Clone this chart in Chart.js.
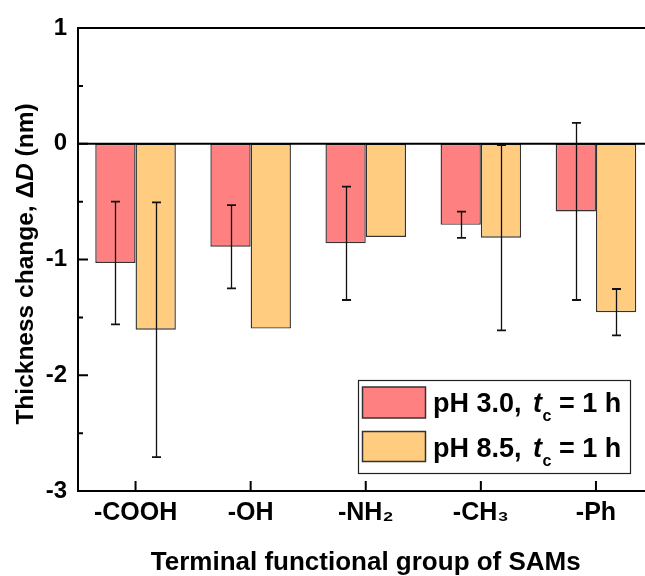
<!DOCTYPE html>
<html>
<head>
<meta charset="utf-8">
<script src="https://cdn.jsdelivr.net/npm/chart.js@4/dist/chart.umd.min.js"></script>
<style>
html,body{margin:0;padding:0;overflow:hidden;background:#fff;width:645px;height:576px;}
#wrap{position:absolute;left:0;top:0;width:660px;height:576px;}
canvas{display:block;}
</style>
</head>
<body>
<div id="wrap"><canvas id="c" width="660" height="576"></canvas></div>
<script>
// ---- data ----
const categories = ['-COOH', '-OH', '-NH\u2082', '-CH\u2083', '-Ph'];
const seriesLabels = ['pH 3.0', 'pH 8.5'];
const exposureTime = '1 h';
const ph30Values = [-1.03, -0.89, -0.86, -0.70, -0.585];
const ph30Errors = [0.53, 0.36, 0.49, 0.113, 0.765];
const ph85Values = [-1.607, -1.597, -0.805, -0.812, -1.455];
const ph85Errors = [1.10, 0, 0, 0.80, 0.20];
const yTicks = [-3, -2, -1, 0, 1];
const xTitle = 'Terminal functional group of SAMs';
const yTitleParts = ['Thickness change, \u0394', 'D', ' (nm)'];

const FONT = "'Liberation Sans', Arial, sans-serif";
Chart.defaults.font.family = FONT;
Chart.defaults.color = '#000';

function drawSegments(ctx, x, y, segs) {
  let cx = x;
  segs.forEach(s => {
    ctx.font = s.font;
    ctx.fillText(s.text, cx, y);
    cx += ctx.measureText(s.text).width;
  });
  return cx;
}

const decor = {
  id: 'decor',
  afterDatasetsDraw(chart) {
    const {ctx, chartArea: a, scales: {x, y}} = chart;
    ctx.save();
    ctx.strokeStyle = '#111';
    chart.data.datasets.forEach((ds, i) => {
      const meta = chart.getDatasetMeta(i);
      meta.data.forEach((bar, j) => {
        const e = ds.errors[j];
        if (!e) return;
        const v = ds.data[j];
        const y1 = y.getPixelForValue(v + e), y2 = y.getPixelForValue(v - e);
        const bx = Math.round(bar.x) + 0.5;
        ctx.lineWidth = 1.3;
        ctx.beginPath();
        ctx.moveTo(bx, y1); ctx.lineTo(bx, y2);
        ctx.stroke();
        ctx.lineWidth = 1.8;
        ctx.beginPath();
        ctx.moveTo(bx - 4.5, y1); ctx.lineTo(bx + 4.5, y1);
        ctx.moveTo(bx - 4.5, y2); ctx.lineTo(bx + 4.5, y2);
        ctx.stroke();
      });
    });
    // zero line
    ctx.strokeStyle = '#000';
    ctx.lineWidth = 2;
    const y0 = y.getPixelForValue(0);
    ctx.beginPath(); ctx.moveTo(a.left, y0); ctx.lineTo(a.right, y0); ctx.stroke();
    ctx.restore();
  },
  afterDraw(chart) {
    const {ctx, chartArea: a, scales: {x, y}} = chart;
    ctx.save();
    ctx.strokeStyle = '#000';
    ctx.lineWidth = 2;
    ctx.strokeRect(a.left, a.top, a.right - a.left, a.bottom - a.top);
    // inward ticks
    ctx.beginPath();
    yTicks.forEach(v => {
      const py = y.getPixelForValue(v);
      ctx.moveTo(a.left, py); ctx.lineTo(a.left + 10, py);
    });
    for (let k = 0; k < yTicks.length - 1; k++) {
      const py = y.getPixelForValue((yTicks[k] + yTicks[k + 1]) / 2);
      ctx.moveTo(a.left, py); ctx.lineTo(a.left + 5, py);
    }
    categories.forEach((c, i) => {
      const px = x.getPixelForValue(i);
      ctx.moveTo(px, a.bottom); ctx.lineTo(px, a.bottom - 10);
    });
    ctx.stroke();

    // y-axis title (rotated, italic D)
    ctx.fillStyle = '#000';
    ctx.textBaseline = 'alphabetic';
    ctx.textAlign = 'left';
    const segs = [
      {text: yTitleParts[0], font: 'bold 24.5px ' + FONT},
      {text: yTitleParts[1], font: 'italic bold 24.5px ' + FONT},
      {text: yTitleParts[2], font: 'bold 24.5px ' + FONT}
    ];
    let w = 0;
    segs.forEach(s => { ctx.font = s.font; w += ctx.measureText(s.text).width; });
    ctx.translate(33, 264);
    ctx.rotate(-Math.PI / 2);
    drawSegments(ctx, -w / 2, 0, segs);
    ctx.restore();

    // legend
    ctx.save();
    ctx.fillStyle = '#fff';
    ctx.fillRect(358.5, 380.5, 272, 93);
    ctx.strokeStyle = '#222';
    ctx.lineWidth = 1.2;
    ctx.strokeRect(358.5, 380.5, 272, 93);
    const rows = [{sy: 387, sh: 31, base: 411.7}, {sy: 431.5, sh: 30, base: 456.7}];
    chart.data.datasets.forEach((ds, i) => {
      const r = rows[i];
      ctx.fillStyle = ds.backgroundColor;
      ctx.fillRect(362.5, r.sy, 63, r.sh);
      ctx.strokeStyle = '#333';
      ctx.lineWidth = 1.5;
      ctx.strokeRect(362.5, r.sy, 63, r.sh);
      ctx.fillStyle = '#000';
      ctx.textBaseline = 'alphabetic';
      ctx.font = 'bold 27px ' + FONT;
      ctx.fillText(seriesLabels[i] + ',', 433, r.base);
      ctx.font = 'italic bold 27px ' + FONT;
      ctx.fillText('t', 533, r.base);
      ctx.font = 'bold 16px ' + FONT;
      ctx.fillText('c', 542.5, r.base + 9.5);
      ctx.font = 'bold 27px ' + FONT;
      ctx.fillText('= ' + exposureTime, 559, r.base);
    });
    ctx.restore();
  }
};

new Chart(document.getElementById('c'), {
  type: 'bar',
  data: {
    labels: categories,
    datasets: [
      {label: seriesLabels[0], data: ph30Values, errors: ph30Errors,
       backgroundColor: '#FF8080', borderColor: '#333333', borderWidth: 1.4, borderSkipped: false,
       barPercentage: 1, categoryPercentage: 0.7},
      {label: seriesLabels[1], data: ph85Values, errors: ph85Errors,
       backgroundColor: '#FFCC80', borderColor: '#333333', borderWidth: 1.4, borderSkipped: false,
       barPercentage: 1, categoryPercentage: 0.7}
    ]
  },
  options: {
    responsive: false,
    animation: false,
    layout: {padding: {left: 0, right: 6.5, top: 28, bottom: 0}},
    plugins: {legend: {display: false}, tooltip: {enabled: false}},
    scales: {
      x: {
        grid: {display: false, drawTicks: false},
        border: {display: false},
        ticks: {font: {size: 25, weight: 'bold'}, color: '#000', padding: 7, maxRotation: 0, autoSkip: false},
        title: {display: true, text: xTitle, font: {size: 26, weight: 'bold'}, color: '#000', padding: {top: 0, bottom: -2.5}},
        afterFit(s) { s.height = 85; }
      },
      y: {
        min: -3, max: 1,
        grid: {display: false, drawTicks: false},
        border: {display: false},
        afterBuildTicks(s) { s.ticks = yTicks.map(v => ({value: v})); },
        ticks: {font: {size: 24, weight: 'bold'}, color: '#000', padding: 11},
        afterFit(s) { s.width = 78; }
      }
    }
  },
  plugins: [decor]
});
</script>
</body>
</html>
